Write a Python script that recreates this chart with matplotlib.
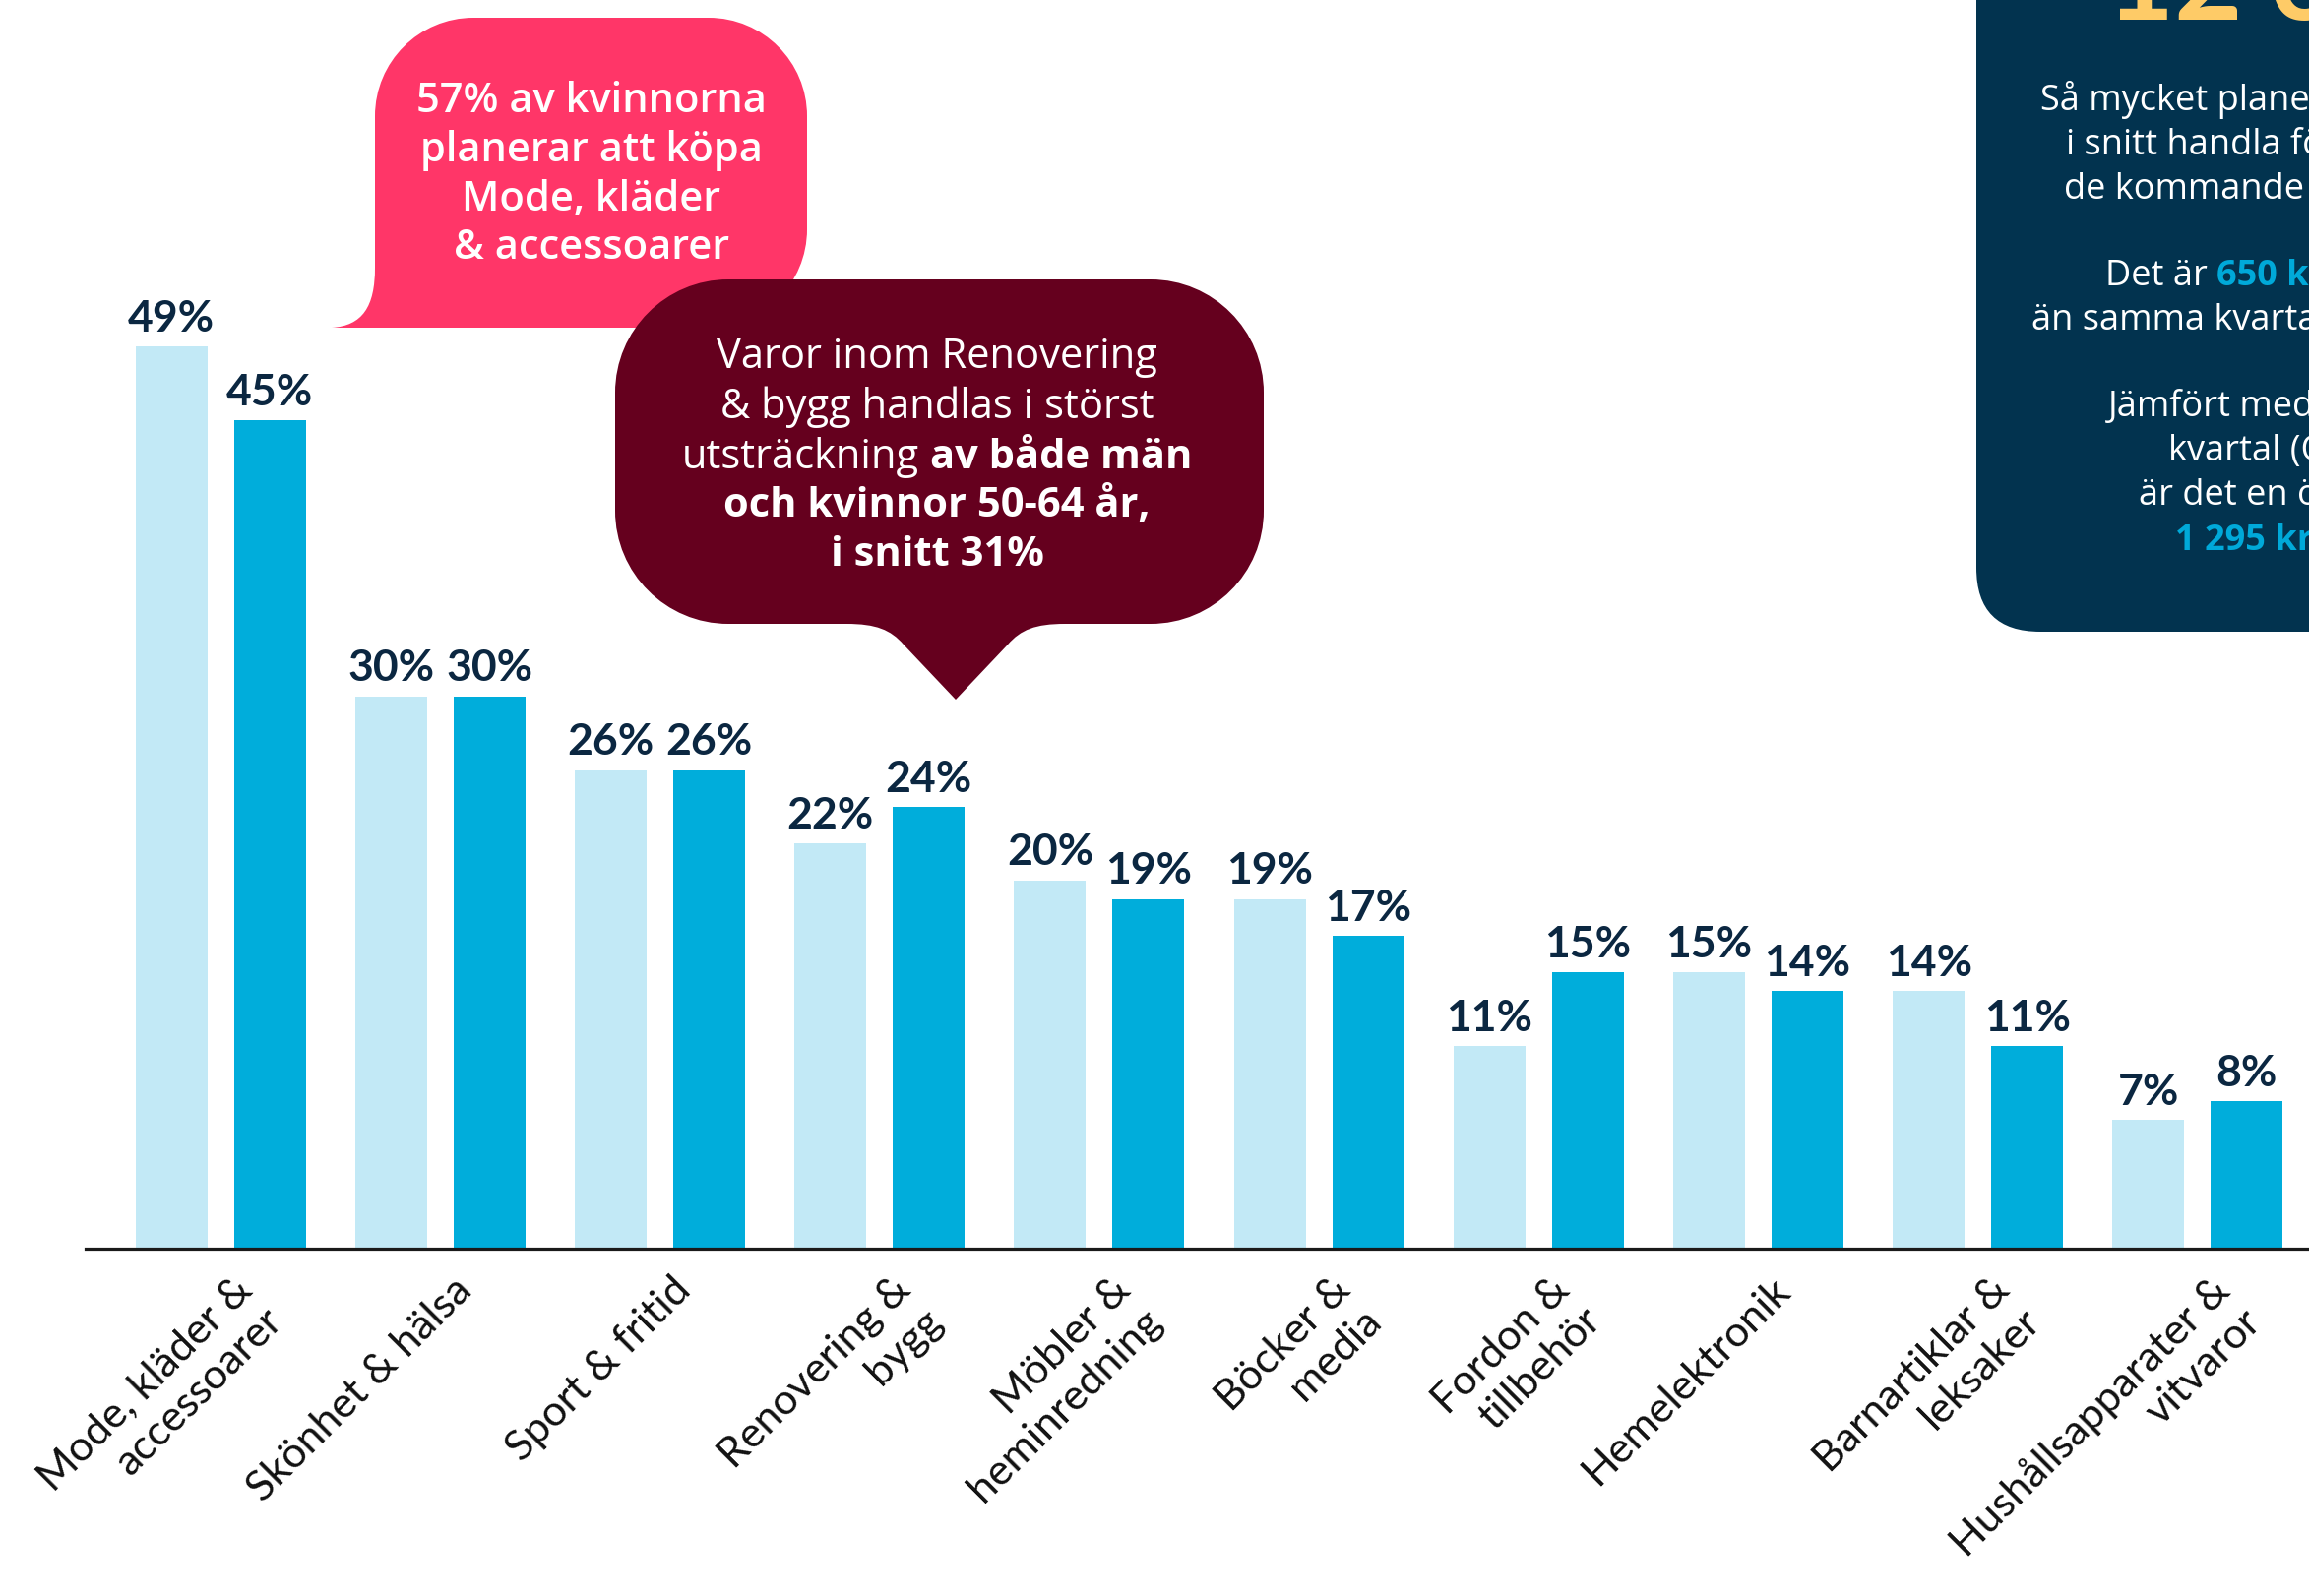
import matplotlib
matplotlib.use("Agg")
import matplotlib.pyplot as plt
import numpy as np
from matplotlib.path import Path
from matplotlib.patches import PathPatch, FancyBboxPatch
from matplotlib.transforms import ScaledTranslation

W, H = 2346, 1622

# data
kategorier = ["Mode, kläder &\naccessoarer", "Skönhet & hälsa", "Sport & fritid",
              "Renovering &\nbygg", "Möbler &\nheminredning", "Böcker &\nmedia",
              "Fordon &\ntillbehör", "Hemelektronik", "Barnartiklar &\nleksaker",
              "Hushållsapparater &\nvitvaror"]
serie_ljus = [49, 30, 26, 22, 20, 19, 11, 15, 14, 7]
serie_mork = [45, 30, 26, 24, 19, 17, 15, 14, 11, 8]

pink_lines = ["57% av kvinnorna", "planerar att köpa", "Mode, kläder", "& accessoarer"]
maroon_lines = [[("Varor inom Renovering", "normal")],
                [("& bygg handlas i störst", "normal")],
                [("utsträckning", "normal"), ("av både män", "bold")],
                [("och kvinnor 50-64 år,", "bold")],
                [("i snitt 31%", "bold")]]
big_number = "12 300"
navy_lines = [[("Så mycket planerar man att", "w")],
              [("i snitt handla för under", "w")],
              [("de kommande tre månaderna.", "w")],
              [("Det är", "w"), ("650 kr mer", "b")],
              [("än samma kvartal i fjol.", "w")],
              [("Jämfört med föregående", "w")],
              [("kvartal (Q1 2024)", "w")],
              [("är det en ökning på", "w")],
              [("1 295 kr.", "b")]]

LIGHT = "#c2e9f6"
DARK = "#00addb"
NAVY = "#02334f"
LABEL = "#0b2741"
BODY = "Open Sans"

plt.rcParams["font.family"] = ["Lato", "DejaVu Sans"]

fig = plt.figure(figsize=(W / 100, H / 100), dpi=100)
r = fig.canvas.get_renderer()

# bar chart
ax = fig.add_axes([87 / W, (H - 1269) / H, (W - 87) / W, 1122.6 / H])
x = np.arange(len(kategorier))
b1 = ax.bar(x - 0.224, serie_ljus, width=0.327, color=LIGHT, zorder=1)
b2 = ax.bar(x + 0.224, serie_mork, width=0.327, color=DARK, zorder=1)
ax.set_xlim(-0.614, 9.507)
ax.set_ylim(0, 60)
for s in ["top", "left", "right"]:
    ax.spines[s].set_visible(False)
ax.spines["bottom"].set_linewidth(2.3)
ax.spines["bottom"].set_color("#1a1a1a")
ax.spines["bottom"].set_zorder(3)
ax.set_yticks([])
ax.patch.set_alpha(0)
for b, vals in ((b1, serie_ljus), (b2, serie_mork)):
    ax.bar_label(b, labels=[f"{v}%" for v in vals], padding=6, fontsize=32,
                 fontweight="bold", color=LABEL)
ax.set_xticks(x, kategorier, rotation=45, ha="right", rotation_mode="anchor",
              fontsize=31, fontweight="normal", color="#111111")
ax.tick_params(axis="x", length=0, pad=16)
for lab in ax.get_xticklabels():
    lab.set_transform(lab.get_transform() + ScaledTranslation(0.12, 0, fig.dpi_scale_trans))

# overlay in pixel coords
ov = fig.add_axes([0, 0, 1, 1], zorder=5)
ov.set_xlim(0, W)
ov.set_ylim(H, 0)
ov.axis("off")
ov.patch.set_alpha(0)


def corner(p0, p1, p2):
    # cubic approximation of a rounded corner from p0 via corner p1 to p2
    k = 0.552
    c1 = (p0[0] + (p1[0] - p0[0]) * k, p0[1] + (p1[1] - p0[1]) * k)
    c2 = (p2[0] + (p1[0] - p2[0]) * k, p2[1] + (p1[1] - p2[1]) * k)
    return [c1, c2, p2]


def build(segs):
    verts, codes = [], []
    for kind, pts in segs:
        if kind == "M":
            verts.append(pts); codes.append(Path.MOVETO)
        elif kind == "L":
            verts.append(pts); codes.append(Path.LINETO)
        else:
            verts += pts; codes += [Path.CURVE4] * 3
    verts.append(verts[0]); codes.append(Path.CLOSEPOLY)
    return Path(verts, codes)


# pink bubble
R = 100
pl, pr, pt, pb = 381, 820, 18, 333
pink = build([
    ("M", (pl + R, pt)), ("L", (pr - R, pt)),
    ("C", corner((pr - R, pt), (pr, pt), (pr, pt + R))),
    ("L", (pr, pb - R)),
    ("C", corner((pr, pb - R), (pr, pb), (pr - R, pb))),
    ("L", (337, pb)),
    ("C", [(368, 331), (381, 312), (381, 272)]),
    ("L", (pl, pt + R)),
    ("C", corner((pl, pt + R), (pl, pt), (pl + R, pt))),
])
ov.add_patch(PathPatch(pink, facecolor="#ff3668", edgecolor="none", zorder=1))

# maroon bubble
R2 = 115
ml, mr, mt, mb = 625, 1284, 284, 634
maroon = build([
    ("M", (ml + R2, mt)), ("L", (mr - R2, mt)),
    ("C", corner((mr - R2, mt), (mr, mt), (mr, mt + R2))),
    ("L", (mr, mb - R2)),
    ("C", corner((mr, mb - R2), (mr, mb), (mr - R2, mb))),
    ("L", (1082, mb)),
    ("C", [(1052, mb), (1037, 640), (1024, 655)]),
    ("L", (971, 711)),
    ("L", (918, 655)),
    ("C", [(905, 640), (890, mb), (860, mb)]),
    ("L", (ml + R2, mb)),
    ("C", corner((ml + R2, mb), (ml, mb), (ml, mb - R2))),
    ("L", (ml, mt + R2)),
    ("C", corner((ml, mt + R2), (ml, mt), (ml + R2, mt))),
])
ov.add_patch(PathPatch(maroon, facecolor="#65001e", edgecolor="none", zorder=2))

# navy box, only its lower left corner is inside the picture
ov.add_patch(FancyBboxPatch((2008, -300), 1000, 942, boxstyle="round,pad=0,rounding_size=65",
                            facecolor=NAVY, edgecolor="none", zorder=1))


def space_w(size, weight):
    a = ov.text(0, 0, "x x", fontsize=size, fontweight=weight, family=BODY)
    b = ov.text(0, 0, "xx", fontsize=size, fontweight=weight, family=BODY)
    w = a.get_window_extent(r).width - b.get_window_extent(r).width
    a.remove(); b.remove()
    return w


def rich_line(xpos, y, parts, size, align="center", z=4):
    texts = [ov.text(0, y, s, color=c, fontsize=size, fontweight=wt, ha="left",
                     va="baseline", zorder=z, family=BODY) for s, c, wt in parts]
    widths = [t.get_window_extent(r).width for t in texts]
    gap = space_w(size, "normal")
    total = sum(widths) + gap * (len(texts) - 1)
    cur = xpos - total / 2 if align == "center" else xpos
    for t, w in zip(texts, widths):
        t.set_x(cur)
        cur += w + gap


for line, y in zip(pink_lines, [114, 164, 214, 263]):
    ov.text(601, y, line, color="white", fontsize=30, fontweight="semibold",
            family=BODY, ha="center", va="baseline", zorder=4)

for parts, y in zip(maroon_lines, [374, 425, 476, 525, 575]):
    rich_line(952, y, [(s, "white", wt) for s, wt in parts], 30)

ov.text(2140, 20, big_number, color="#fecb67", fontsize=86, fontweight="bold",
        ha="left", va="baseline", zorder=4)

navy_x = [2073, 2099, 2097, 2139, 2064, 2142, 2203, 2173, 2210]
navy_y = [112, 157, 202, 290, 335, 423, 468, 513, 559]
for parts, xs, y in zip(navy_lines, navy_x, navy_y):
    rich_line(xs, y, [(s, "white" if c == "w" else "#00a9d9",
                       "normal" if c == "w" else "bold") for s, c in parts],
              26, align="left")

fig.savefig("out.png", dpi=100)
